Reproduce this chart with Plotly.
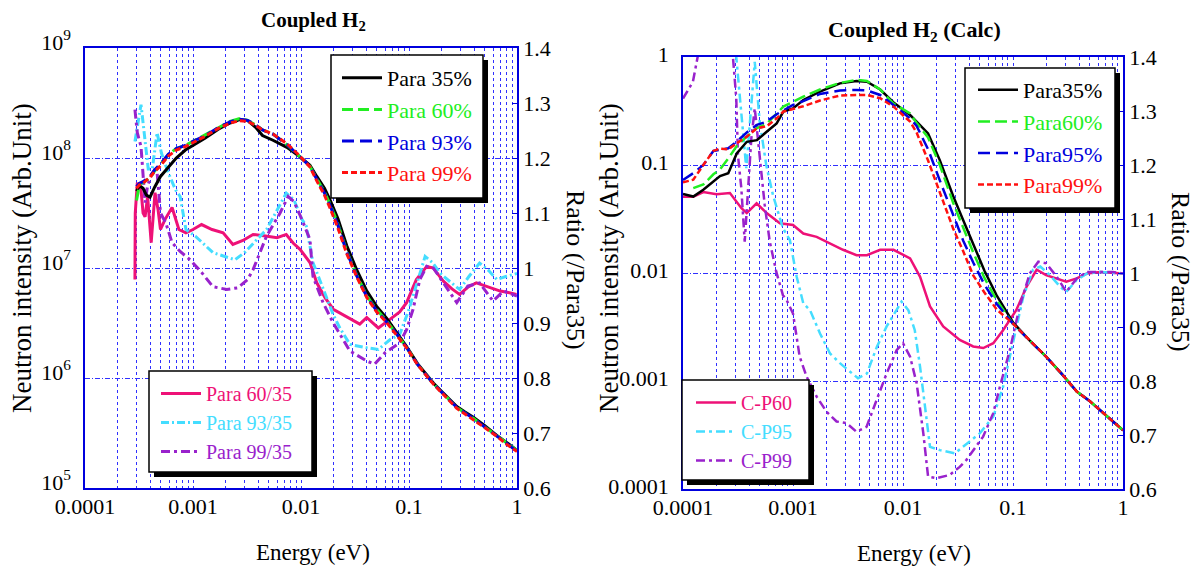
import plotly.graph_objects as go

# ---------------- data: left panel (measured) ----------------
E_L = [3.0e-4, 3.2e-4, 3.45e-4, 3.7e-4, 4.0e-4, 4.4e-4, 5.0e-4, 5.9e-4, 7.0e-4, 8.5e-4,
       1.0e-3, 1.3e-3, 1.7e-3, 2.2e-3, 2.7e-3, 3.2e-3, 3.8e-3, 4.4e-3, 5.5e-3, 7.4e-3,
       9.5e-3, 0.0121, 0.014, 0.0165, 0.0186, 0.022, 0.0265, 0.033, 0.0406, 0.05,
       0.062, 0.075, 0.095, 0.12, 0.168, 0.22, 0.277, 0.33, 0.394, 0.5, 0.65, 0.8, 1.0]
para35 = [5.0e7, 5.6e7, 5.3e7, 4.6e7, 4.4e7, 5.4e7, 6.8e7, 8.3e7, 1.0e8, 1.18e8,
          1.3e8, 1.52e8, 1.82e8, 2.08e8, 2.24e8, 2.2e8, 1.9e8, 1.6e8, 1.45e8, 1.25e8,
          1.05e8, 8.6e7, 6.8e7, 5.3e7, 4.15e7, 2.8e7, 1.6e7, 9.5e6, 6.2e6, 4.5e6,
          3.5e6, 2.7e6, 1.93e6, 1.35e6, 9.0e5, 6.9e5, 5.5e5, 4.9e5, 4.4e5, 3.7e5, 3.0e5, 2.6e5, 2.2e5]
para60 = [4.1e7, 5.8e7, 6.0e7, 6.3e7, 6.6e7, 7.6e7, 8.7e7, 1.07e8, 1.22e8, 1.3e8,
          1.42e8, 1.62e8, 1.9e8, 2.15e8, 2.28e8, 2.2e8, 2.0e8, 1.8e8, 1.66e8, 1.32e8,
          1.05e8, 8.4e7, 6.5e7, 4.9e7, 3.8e7, 2.5e7, 1.42e7, 8.5e6, 5.6e6, 4.2e6,
          3.3e6, 2.6e6, 1.9e6, 1.33e6, 8.9e5, 6.8e5, 5.4e5, 4.8e5, 4.3e5, 3.6e5, 3.0e5, 2.55e5, 2.2e5]
para93 = [5.5e7, 5.9e7, 6.1e7, 6.4e7, 6.8e7, 7.8e7, 8.8e7, 1.08e8, 1.22e8, 1.3e8,
          1.42e8, 1.6e8, 1.88e8, 2.13e8, 2.25e8, 2.2e8, 2.0e8, 1.8e8, 1.65e8, 1.33e8,
          1.06e8, 8.4e7, 6.4e7, 4.8e7, 3.7e7, 2.45e7, 1.4e7, 8.4e6, 5.5e6, 4.1e6,
          3.25e6, 2.6e6, 1.9e6, 1.33e6, 8.9e5, 6.8e5, 5.4e5, 4.8e5, 4.3e5, 3.6e5, 3.0e5, 2.55e5, 2.15e5]
para99 = [5.3e7, 5.7e7, 5.9e7, 6.3e7, 6.7e7, 7.5e7, 8.5e7, 1.04e8, 1.18e8, 1.27e8,
          1.38e8, 1.58e8, 1.85e8, 2.08e8, 2.18e8, 2.15e8, 1.98e8, 1.8e8, 1.65e8, 1.35e8,
          1.07e8, 8.3e7, 6.2e7, 4.6e7, 3.5e7, 2.3e7, 1.35e7, 8.2e6, 5.4e6, 4.0e6,
          3.2e6, 2.55e6, 1.88e6, 1.32e6, 8.8e5, 6.7e5, 5.3e5, 4.7e5, 4.2e5, 3.55e5, 2.95e5, 2.5e5, 2.15e5]

E_r60 = [2.9e-4, 2.92e-4, 3.05e-4, 3.3e-4, 3.45e-4, 3.6e-4, 3.8e-4, 4.1e-4, 4.45e-4, 4.75e-4,
         5.0e-4, 5.5e-4, 6.4e-4, 7.4e-4, 8.6e-4, 1.0e-3, 1.2e-3, 1.5e-3, 1.9e-3, 2.34e-3,
         2.9e-3, 3.6e-3, 4.7e-3, 6.0e-3, 7.3e-3, 8.5e-3, 0.0098, 0.0121, 0.014, 0.0168,
         0.0199, 0.0284, 0.035, 0.0406, 0.052, 0.067, 0.082, 0.095, 0.117, 0.146,
         0.168, 0.208, 0.25, 0.294, 0.35, 0.42, 0.56, 0.7, 0.85, 0.99]
ratio60 = [0.979, 1.10, 1.155, 1.142, 1.10, 1.093, 1.13, 1.046, 1.137, 1.106,
           1.07, 1.088, 1.11, 1.07, 1.064, 1.07, 1.079, 1.07, 1.064, 1.043,
           1.05, 1.061, 1.058, 1.055, 1.061, 1.045, 1.034, 1.01, 0.973, 0.945,
           0.925, 0.907, 0.898, 0.91, 0.891, 0.907, 0.92, 0.937, 0.979, 1.003,
           1.0, 0.976, 0.962, 0.952, 0.965, 0.973, 0.964, 0.958, 0.955, 0.952]

E_r93 = [2.9e-4, 3.3e-4, 3.45e-4, 3.7e-4, 3.85e-4, 4.2e-4, 4.65e-4, 5.1e-4, 5.9e-4, 6.9e-4,
         7.6e-4, 8.6e-4, 1.05e-3, 1.53e-3, 2.0e-3, 2.45e-3, 3.0e-3, 3.8e-3, 4.8e-3, 6.0e-3,
         7.3e-3, 7.9e-3, 8.6e-3, 0.0101, 0.0112, 0.0129, 0.016, 0.0199, 0.023, 0.0284,
         0.0406, 0.052, 0.067, 0.082, 0.1, 0.126, 0.141, 0.165, 0.193, 0.24,
         0.294, 0.36, 0.45, 0.55, 0.65, 0.8, 0.91, 1.0]
ratio93 = [1.23, 1.297, 1.264, 1.203, 1.18, 1.18, 1.246, 1.209, 1.173, 1.142,
           1.13, 1.07, 1.058, 1.028, 1.02, 1.015, 1.028, 1.05, 1.07, 1.105,
           1.136, 1.13, 1.124, 1.09, 1.076, 1.01, 0.961, 0.915, 0.89, 0.861,
           0.855, 0.852, 0.87, 0.879, 0.925, 0.991, 1.021, 1.01, 0.991, 0.975,
           0.961, 0.985, 1.009, 0.995, 0.979, 0.985, 0.988, 0.99]

E_r99 = [2.9e-4, 3.05e-4, 3.3e-4, 3.45e-4, 3.6e-4, 3.8e-4, 4.1e-4, 4.6e-4, 5.0e-4, 5.6e-4,
         6.4e-4, 7.6e-4, 9.4e-4, 1.2e-3, 1.53e-3, 2.05e-3, 2.6e-3, 3.2e-3, 3.6e-3, 4.8e-3,
         6.4e-3, 7.6e-3, 8.6e-3, 0.0101, 0.0121, 0.0129, 0.016, 0.0199, 0.0284, 0.0406,
         0.048, 0.06, 0.082, 0.095, 0.109, 0.126, 0.146, 0.168, 0.22, 0.277,
         0.35, 0.45, 0.6, 0.75, 1.0]
ratio99 = [1.288, 1.246, 1.221, 1.167, 1.119, 1.15, 1.167, 1.185, 1.1, 1.082,
           1.046, 1.03, 1.015, 0.992, 0.966, 0.961, 0.964, 0.979, 0.997, 1.058,
           1.1, 1.13, 1.121, 1.09, 1.052, 0.985, 0.937, 0.9, 0.849, 0.831,
           0.825, 0.846, 0.864, 0.888, 0.925, 0.979, 1.003, 1.0, 0.967, 0.937,
           0.967, 0.973, 0.94, 0.958, 0.949]

# ---------------- data: right panel (calculated) ----------------
E_R = [1.0e-4, 1.24e-4, 1.53e-4, 1.89e-4, 2.17e-4, 2.58e-4, 3.08e-4, 3.8e-4, 4.7e-4, 5.76e-4,
       7.1e-4, 8.17e-4, 1.0e-3, 1.24e-3, 1.76e-3, 2.67e-3, 3.78e-3, 4.7e-3, 6.2e-3, 8.2e-3,
       0.0116, 0.0133, 0.0169, 0.0216, 0.0285, 0.0352, 0.0435, 0.055, 0.071, 0.0998,
       0.14, 0.2, 0.28, 0.38, 0.5, 0.7, 1.0]
calc35 = [0.054, 0.051, 0.059, 0.07, 0.079, 0.084, 0.128, 0.164, 0.17, 0.203,
          0.243, 0.312, 0.334, 0.4, 0.477, 0.57, 0.6, 0.59, 0.5, 0.38,
          0.29, 0.252, 0.196, 0.111, 0.052, 0.031, 0.0185, 0.0105, 0.0062, 0.0035,
          0.0024, 0.00168, 0.00115, 8.0e-4, 6.5e-4, 4.8e-4, 3.5e-4]
calc60 = [None, 0.061, 0.066, 0.082, 0.091, 0.115, 0.15, 0.183, 0.22, 0.24,
          0.3, 0.347, 0.385, 0.43, 0.5, 0.575, 0.615, 0.6, 0.5, 0.37,
          0.3, 0.245, 0.18, 0.1, 0.045, 0.026, 0.0155, 0.009, 0.0056, 0.0034,
          0.0024, 0.00168, 0.00115, 8.0e-4, 6.5e-4, 4.8e-4, 3.5e-4]
calc95 = [0.0725, 0.084, 0.1, 0.135, 0.138, 0.143, 0.165, 0.2, 0.235, 0.252,
          0.295, 0.32, 0.36, 0.39, 0.455, 0.49, 0.495, 0.49, 0.445, 0.36,
          0.27, 0.23, 0.14, 0.072, 0.034, 0.02, 0.0125, 0.0078, 0.0052, 0.0034,
          0.0024, 0.00168, 0.00115, 8.0e-4, 6.5e-4, 4.8e-4, 3.5e-4]
calc99 = [0.069, 0.073, 0.1, 0.135, 0.142, 0.14, 0.159, 0.183, 0.219, 0.228,
          0.27, 0.312, 0.33, 0.35, 0.395, 0.44, 0.445, 0.445, 0.415, 0.347,
          0.252, 0.2, 0.11, 0.055, 0.026, 0.016, 0.0095, 0.0066, 0.0046, 0.0034,
          0.0024, 0.00168, 0.00115, 8.0e-4, 6.5e-4, 4.8e-4, 3.5e-4]

E_cp60 = [1.0e-4, 1.24e-4, 1.53e-4, 2.02e-4, 2.67e-4, 3.4e-4, 3.8e-4, 4.67e-4, 5.76e-4, 7.6e-4,
          1.0e-3, 1.24e-3, 1.64e-3, 2.17e-3, 2.85e-3, 3.78e-3, 4.7e-3, 6.2e-3, 8.2e-3, 0.0116,
          0.0143, 0.0176, 0.0232, 0.0328, 0.0435, 0.0537, 0.0662, 0.0812, 0.107, 0.133,
          0.164, 0.2, 0.25, 0.305, 0.38, 0.47, 0.62, 1.0]
cp60 = [1.141, 1.141, 1.15, 1.146, 1.148, 1.12, 1.111, 1.129, 1.111, 1.092,
        1.089, 1.073, 1.067, 1.055, 1.043, 1.033, 1.033, 1.043, 1.043, 1.027,
        0.993, 0.938, 0.901, 0.876, 0.864, 0.861, 0.87, 0.894, 0.931, 0.975,
        1.006, 0.996, 0.99, 0.984, 0.99, 0.999, 1.002, 0.999]

E_cp95 = [2.9e-4, 3.05e-4, 3.76e-4, 4.49e-4, 4.98e-4, 5.71e-4, 6.58e-4, 8.1e-4, 9.37e-4, 1.08e-3,
          1.24e-3, 1.43e-3, 1.76e-3, 2.17e-3, 2.67e-3, 3.3e-3, 3.9e-3, 4.7e-3, 5.78e-3, 7.1e-3,
          8.8e-3, 9.7e-3, 0.0112, 0.0128, 0.0143, 0.0159, 0.0176, 0.0217, 0.0296, 0.0499,
          0.0662, 0.0812, 0.1, 0.124, 0.152, 0.177, 0.217, 0.267, 0.305, 0.38,
          0.47, 0.62, 1.0]
cp95 = [1.48, 1.40, 1.194, 1.391, 1.28, 1.2, 1.144, 1.083, 1.061, 0.993,
        0.944, 0.931, 0.888, 0.851, 0.833, 0.817, 0.805, 0.814, 0.863, 0.901,
        0.931, 0.947, 0.931, 0.894, 0.826, 0.752, 0.678, 0.672, 0.666, 0.703,
        0.734, 0.789, 0.87, 0.956, 1.006, 1.012, 0.996, 0.975, 0.965, 0.987,
        0.999, 1.002, 0.999]

E_cp99 = [1.0e-4, 1.23e-4, 1.37e-4, 2.0e-4, 2.85e-4, 3.05e-4, 3.16e-4, 3.39e-4, 3.64e-4, 3.9e-4,
          4.18e-4, 4.49e-4, 4.81e-4, 5.53e-4, 6.15e-4, 7.05e-4, 8.1e-4, 8.75e-4, 1.0e-3, 1.15e-3,
          1.33e-3, 1.64e-3, 2.02e-3, 2.49e-3, 3.07e-3, 3.78e-3, 4.66e-3, 5.75e-3, 7.1e-3, 8.75e-3,
          0.01, 0.0116, 0.0133, 0.0153, 0.0169, 0.0201, 0.0266, 0.0328, 0.0378, 0.0535,
          0.066, 0.0759, 0.0935, 0.115, 0.142, 0.17, 0.2, 0.25, 0.305, 0.38,
          0.47, 0.81, 1.0]
cp99 = [1.323, 1.354, 1.404, 1.8, 1.398, 1.323, 1.218, 1.157, 1.058, 1.157,
        1.249, 1.305, 1.249, 1.126, 1.058, 1.002, 0.959, 0.95, 0.925, 0.845,
        0.808, 0.771, 0.743, 0.725, 0.722, 0.706, 0.715, 0.765, 0.814, 0.857,
        0.87, 0.845, 0.796, 0.703, 0.623, 0.62, 0.626, 0.641, 0.654, 0.697,
        0.74, 0.789, 0.857, 0.938, 0.999, 1.021, 1.018, 0.993, 0.965, 0.99,
        1.002, 1.002, 0.999]

x_ticks = [1e-4, 1e-3, 1e-2, 1e-1, 1]
x_ticktext = ["0.0001", "0.001", "0.01", "0.1", "1"]
yL_ticks = [1e5, 1e6, 1e7, 1e8, 1e9]
yL_ticktext = ["10<sup>5</sup>", "10<sup>6</sup>", "10<sup>7</sup>", "10<sup>8</sup>", "10<sup>9</sup>"]
yR_ticks = [1e-4, 1e-3, 1e-2, 1e-1, 1]
yR_ticktext = ["0.0001", "0.001", "0.01", "0.1", "1"]

# ---------------- styling ----------------
OFF = 8                     # default page margin around the plot div
FW, FH = 1203 - OFF, 567 - OFF
FONT = "Liberation Serif"
BLUE = "#0000dd"
GRID = "#3030ff"
C_BLACK, C_GREEN, C_BLUE, C_RED = "#000000", "#22ee22", "#0000dd", "#ff1010"
C_PINK, C_CYAN, C_PURP = "#ee1177", "#44ddff", "#9922cc"

def px_x(p):
    return (p - OFF) / FW

def px_y(p):
    return 1 - (p - OFF) / FH

minor_vals = [m * 10 ** k for k in range(-4, 0) for m in range(2, 10)]

fig = go.Figure()

def colored(name, color):
    return "<span style='color:%s'>%s</span>" % (color, name)

# left panel ratios (base axis y / x)
for E, r, name, color, dash in [
    (E_r60, ratio60, "Para 60/35", C_PINK, "solid"),
    (E_r93, ratio93, "Para 93/35", C_CYAN, "8px,3px,2px,3px"),
    (E_r99, ratio99, "Para 99/35", C_PURP, "9px,4px,3px,4px"),
]:
    fig.add_trace(go.Scatter(x=E, y=r, mode="lines", name=colored(name, color),
                             line=dict(color=color, width=3, dash=dash),
                             xaxis="x", yaxis="y", legend="legend2"))
# left panel intensities (overlay axis y2)
for I, name, color, dash in [
    (para35, "Para 35%", C_BLACK, "solid"),
    (para60, "Para 60%", C_GREEN, "11px,5px"),
    (para93, "Para 93%", C_BLUE, "12px,6px"),
    (para99, "Para 99%", C_RED, "6px,3px"),
]:
    fig.add_trace(go.Scatter(x=E_L, y=I, mode="lines", name=colored(name, color),
                             line=dict(color=color, width=3, dash=dash),
                             xaxis="x", yaxis="y2", legend="legend"))

# right panel ratios
for E, r, name, color, dash in [
    (E_cp60, cp60, "C-P60", C_PINK, "solid"),
    (E_cp95, cp95, "C-P95", C_CYAN, "9px,4px,3px,4px"),
    (E_cp99, cp99, "C-P99", C_PURP, "9px,4px,3px,4px"),
]:
    fig.add_trace(go.Scatter(x=E, y=r, mode="lines", name=colored(name, color),
                             line=dict(color=color, width=2.5, dash=dash),
                             xaxis="x2", yaxis="y3", legend="legend4"))
# right panel intensities
for I, name, color, dash in [
    (calc35, "Para35%", C_BLACK, "solid"),
    (calc60, "Para60%", C_GREEN, "12px,5px"),
    (calc95, "Para95%", C_BLUE, "12px,6px"),
    (calc99, "Para99%", C_RED, "6px,3px"),
]:
    fig.add_trace(go.Scatter(x=E_R, y=I, mode="lines", name=colored(name, color),
                             line=dict(color=color, width=2.5, dash=dash),
                             xaxis="x2", yaxis="y4", legend="legend3"))

tickfont = dict(family=FONT, size=22, color="black")

def xaxis_cfg(dom, anchor):
    return dict(type="log", range=[-4, 0], domain=dom, anchor=anchor,
                tickvals=x_ticks, ticktext=x_ticktext, tickfont=tickfont,
                ticklabelstandoff=-2,
                showgrid=True, gridcolor=GRID, griddash="dot", gridwidth=1,
                minor=dict(tickvals=minor_vals, showgrid=True, gridcolor=GRID,
                           griddash="dot", gridwidth=1, ticks=""),
                showline=True, mirror=True, linecolor=BLUE, linewidth=1.5,
                ticks="", zeroline=False, automargin=False)

def ratio_cfg(dom, anchor):
    return dict(range=[0.6, 1.4], domain=dom, anchor=anchor, side="right",
                dtick=0.1, tick0=0.6, tickfont=tickfont, showgrid=False,
                ticks="inside", ticklen=5, tickcolor=BLUE,
                showline=True, linecolor=BLUE, linewidth=1.5, zeroline=False,
                automargin=False)

def log_cfg(rng, vals, text, over, anchor, shift):
    return dict(type="log", range=rng, overlaying=over, anchor=anchor, side="left",
                tickvals=vals, ticktext=text, tickfont=tickfont,
                ticklabelstandoff=8, ticklabelshift=shift,
                showgrid=True, gridcolor=GRID, griddash="5px,2px,1px,2px", gridwidth=1,
                showline=True, linecolor=BLUE, linewidth=1.5, ticks="", zeroline=False,
                automargin=False)

domL_x = [px_x(85), px_x(517)]
domL_y = [px_y(488), px_y(48)]
domR_x = [px_x(683), px_x(1123)]
domR_y = [px_y(489), px_y(57)]

def leg(x, y, fs):
    return dict(x=px_x(x), y=px_y(y), xref="paper", yref="paper", xanchor="left", yanchor="top",
                bgcolor="rgba(0,0,0,0)", borderwidth=0,
                font=dict(family=FONT, size=fs, color="black"), itemwidth=40)

fig.update_layout(
    width=FW, height=FH,
    margin=dict(l=0, r=0, t=0, b=0),
    paper_bgcolor="white", plot_bgcolor="white",
    font=dict(family=FONT, size=20, color="black"),
    xaxis=xaxis_cfg(domL_x, "y"),
    yaxis=ratio_cfg(domL_y, "x"),
    yaxis2=log_cfg([5, 9], yL_ticks, yL_ticktext, "y", "x", -6),
    xaxis2=xaxis_cfg(domR_x, "y3"),
    yaxis3=ratio_cfg(domR_y, "x2"),
    yaxis4=log_cfg([-4, 0], yR_ticks, yR_ticktext, "y3", "x2", -3),
    legend=leg(337, 57, 22),
    legend2=leg(156, 374, 20),
    legend3=leg(973, 69, 22),
    legend4=leg(691, 383, 20),
    showlegend=True,
)

# legend frames with drop shadows
boxes = [(331, 55, 483, 198), (149, 371, 312, 472), (965, 68, 1115, 208), (682, 380, 809, 480)]
for (x0, y0, x1, y1) in boxes:
    fig.add_shape(type="rect", xref="paper", yref="paper",
                  x0=px_x(x0 + 5), x1=px_x(x1 + 5), y0=px_y(y1 + 5), y1=px_y(y0 + 5),
                  fillcolor="black", line=dict(width=0), layer="above")
    fig.add_shape(type="rect", xref="paper", yref="paper",
                  x0=px_x(x0), x1=px_x(x1), y0=px_y(y1), y1=px_y(y0),
                  fillcolor="white", line=dict(width=1.5, color="black"), layer="above")

ann = [
    dict(text="<b>Coupled H<sub>2</sub></b>", x=313, y=21, size=21, angle=0),
    dict(text="<b>Coupled H<sub>2</sub> (Calc)</b>", x=914, y=31, size=22, angle=0),
    dict(text="Energy (eV)", x=313, y=552, size=23, angle=0),
    dict(text="Energy (eV)", x=914, y=553, size=23, angle=0),
    dict(text="Neutron intensity (Arb.Unit)", x=22, y=258, size=27, angle=-90),
    dict(text="Neutron intensity (Arb.Unit)", x=609, y=258, size=27, angle=-90),
    dict(text="Ratio (/Para35)", x=576, y=270, size=26, angle=90),
    dict(text="Ratio (/Para35)", x=1181, y=272, size=26, angle=90),
]
for a in ann:
    fig.add_annotation(text=a["text"], x=px_x(a["x"]), y=px_y(a["y"]), xref="paper", yref="paper",
                       showarrow=False, textangle=a["angle"], xanchor="center", yanchor="middle",
                       font=dict(family=FONT, size=a["size"], color="black"))

fig.write_html("out.html")
